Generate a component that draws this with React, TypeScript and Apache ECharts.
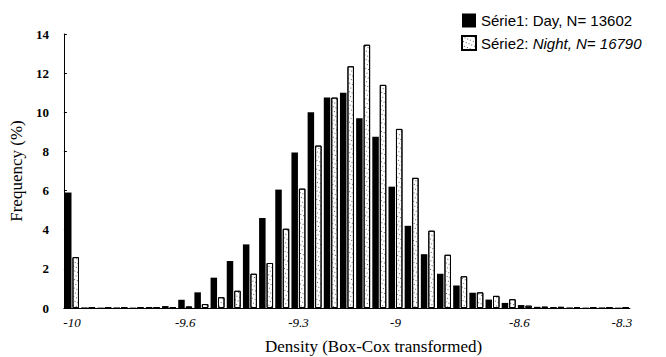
import React, { useEffect, useRef } from "react";
import * as echarts from "echarts";

// 35 equal-width density bins on the Box-Cox scale
const binCount = 35;
const binIds = Array.from({ length: binCount }, (_, i) => String(i));

// Axis labels shown under selected bins
const labelBins = [0, 7, 14, 20, 28, 34];
const labelTexts = ["-10", "-9.6", "-9.3", "-9", "-8.6", "-8.3"];

// Frequency (%) per bin
const dayFreq = [
  5.9, 0.03, 0.02, 0.03, 0.02, 0.05, 0.1, 0.42, 0.8, 1.55, 2.4, 3.25, 4.6, 6.05,
  7.95, 10.0, 10.75, 11.0, 9.7, 8.75, 6.2, 4.2, 2.75, 1.75, 1.15, 0.78, 0.43,
  0.26, 0.15, 0.06, 0.05, 0.03, 0.02, 0.03, 0.02,
];
const nightFreq = [
  2.6, 0.01, 0.01, 0.02, 0.01, 0.01, 0.03, 0.08, 0.2, 0.55, 0.88, 1.75, 2.3,
  4.05, 6.1, 8.3, 10.75, 12.35, 13.45, 11.4, 9.15, 6.65, 3.95, 2.72, 1.62, 0.8,
  0.62, 0.45, 0.12, 0.07, 0.06, 0.04, 0.03, 0.02, 0.03,
];

const dayName = "Série1: Day, N= 13602";
const nightName = "Série2: Night, N= 16790";

const SERIF = "'Liberation Serif', 'Times New Roman', serif";
const SANS = "'Liberation Sans', Arial, sans-serif";

export default function App() {
  const ref = useRef<HTMLDivElement>(null);

  useEffect(() => {
    if (!ref.current) return;
    const chart = echarts.init(ref.current, null, { renderer: "svg" });

    const speckle = {
      symbol: "rect",
      symbolSize: 1,
      color: "rgba(40,40,40,0.75)",
      dashArrayX: [1, 2],
      dashArrayY: [1, 3],
      rotation: 0.4,
    };

    chart.setOption({
      animation: false,
      backgroundColor: "#fff",
      title: {
        text: "Density (Box-Cox transformed)",
        left: 265,
        top: 338,
        padding: 0,
        textStyle: {
          fontFamily: SERIF,
          fontSize: 17,
          fontWeight: "normal",
          color: "#000",
        },
      },
      legend: {
        orient: "vertical",
        left: 461,
        top: 13,
        icon: "rect",
        itemWidth: 14,
        itemHeight: 14,
        itemGap: 7,
        padding: 0,
        data: [dayName, nightName],
        formatter: (name: string) => {
          if (name === nightName) {
            const [head, rest] = name.split(": ");
            return `{n|${head}:} {i|${rest}}`;
          }
          return `{n|${name}}`;
        },
        textStyle: {
          fontFamily: SANS,
          fontSize: 15,
          color: "#000",
          rich: {
            n: { fontFamily: SANS, fontSize: 15, color: "#000" },
            i: { fontFamily: SANS, fontSize: 15, color: "#000", fontStyle: "italic" },
          },
        },
      },
      grid: { left: 62, right: 36, top: 34, bottom: 49, containLabel: false },
      xAxis: {
        type: "category",
        data: binIds,
        boundaryGap: true,
        axisLine: { lineStyle: { color: "#000", width: 1 } },
        axisTick: { inside: true, length: 3, interval: 0, lineStyle: { color: "#000" } },
        axisLabel: {
          interval: 0,
          margin: 8,
          fontFamily: SERIF,
          fontSize: 13,
          fontStyle: "italic",
          color: "#000",
          formatter: (v: string) => {
            const k = labelBins.indexOf(Number(v));
            if (k < 0) return "";
            return k === 4 ? `{s|${labelTexts[k]}}` : labelTexts[k];
          },
          rich: {
            s: {
              fontFamily: SERIF,
              fontSize: 13,
              fontStyle: "italic",
              color: "#000",
              padding: [0, 11, 0, 0],
            },
          },
        },
        splitLine: { show: false },
      },
      yAxis: {
        type: "value",
        min: 0,
        max: 14,
        interval: 2,
        name: "Frequency (%)",
        nameLocation: "middle",
        nameGap: 30,
        nameTextStyle: { fontFamily: SERIF, fontSize: 17, color: "#000" },
        axisLine: { show: true, lineStyle: { color: "#000", width: 1 } },
        axisTick: { show: true, inside: true, length: 3, lineStyle: { color: "#000" } },
        axisLabel: {
          margin: 15,
          fontFamily: SERIF,
          fontSize: 13,
          fontWeight: "bold",
          color: "#000",
        },
        splitLine: { show: false },
      },
      series: [
        {
          name: dayName,
          type: "bar",
          data: dayFreq,
          barWidth: 6.5,
          barGap: "15%",
          itemStyle: { color: "#000" },
        },
        {
          name: nightName,
          type: "bar",
          data: nightFreq,
          barWidth: 6.5,
          barGap: "15%",
          itemStyle: {
            color: "#fff",
            borderColor: "#000",
            borderWidth: 1,
            decal: speckle,
          },
        },
      ],
    });

    return () => chart.dispose();
  }, []);

  return (
    <div
      ref={ref}
      style={{ position: "fixed", left: 0, top: 0, width: 666, height: 357 }}
    />
  );
}
